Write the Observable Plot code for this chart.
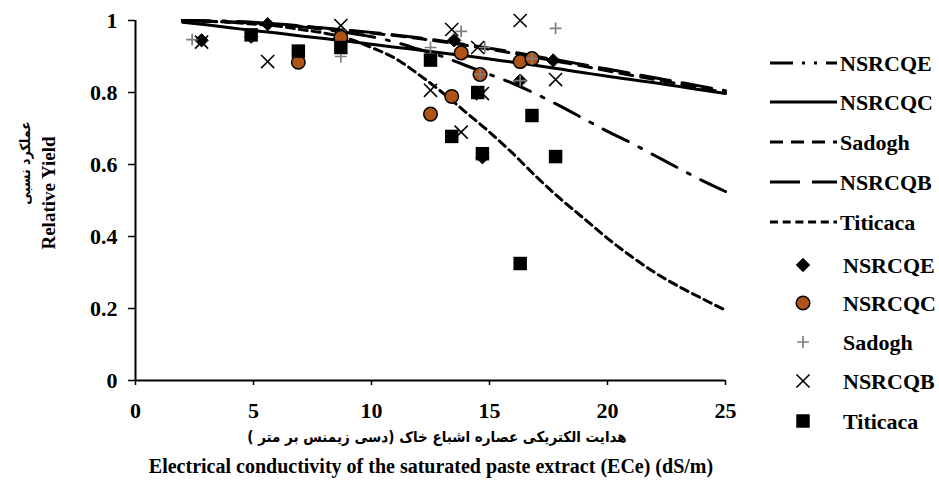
<!DOCTYPE html>
<html><head><meta charset="utf-8">
<script src="https://cdn.jsdelivr.net/npm/d3@7"></script>
<script src="https://cdn.jsdelivr.net/npm/@observablehq/plot@0.6"></script>
<style>
body{margin:0;background:#fff;}
#wrap{position:relative;width:939px;height:483px;}
#wrap svg{position:absolute;left:0;top:0;}
</style></head><body><div id="wrap"></div>
<script>
// ---- data ----
const seriesNames = ["NSRCQE", "NSRCQC", "Sadogh", "NSRCQB", "Titicaca"];
const xTicks = [0, 5, 10, 15, 20, 25];
const yTicks = [0, 0.2, 0.4, 0.6, 0.8, 1];

const curveX     = [2, 3, 4, 5, 6, 7, 8, 9, 10, 11, 12, 13, 14, 15, 16, 17, 18, 19, 20, 21, 22, 23, 24, 25];
const curveQE    = [1.0, 0.999, 0.998, 0.995, 0.99, 0.983, 0.975, 0.966, 0.955, 0.94, 0.92, 0.9, 0.875, 0.85, 0.825, 0.795, 0.762, 0.727, 0.692, 0.66, 0.625, 0.59, 0.556, 0.525];
const curveQC    = [0.995, 0.988, 0.98, 0.972, 0.965, 0.957, 0.95, 0.942, 0.934, 0.926, 0.918, 0.91, 0.902, 0.893, 0.884, 0.875, 0.865, 0.855, 0.845, 0.836, 0.827, 0.817, 0.807, 0.797];
const curveSad   = [1.0, 0.998, 0.996, 0.993, 0.989, 0.984, 0.978, 0.972, 0.965, 0.958, 0.95, 0.941, 0.931, 0.92, 0.909, 0.897, 0.885, 0.873, 0.86, 0.848, 0.836, 0.824, 0.812, 0.80];
const curveQB    = [1.0, 0.998, 0.996, 0.993, 0.99, 0.985, 0.979, 0.973, 0.967, 0.96, 0.952, 0.943, 0.933, 0.923, 0.912, 0.9, 0.889, 0.877, 0.865, 0.853, 0.841, 0.829, 0.817, 0.805];
const curveTiti  = [1.0, 0.998, 0.995, 0.99, 0.985, 0.975, 0.965, 0.95, 0.925, 0.895, 0.85, 0.8, 0.745, 0.69, 0.63, 0.565, 0.505, 0.45, 0.395, 0.345, 0.30, 0.262, 0.228, 0.195];

const ptsQE_x   = [2.8, 4.9, 5.6, 13.5, 17.7, 16.3, 14.7];
const ptsQE_y   = [0.945, 0.955, 0.99, 0.945, 0.889, 0.833, 0.62];
const ptsQC_x   = [6.9, 8.7, 13.8, 16.3, 16.8, 14.6, 13.4, 12.5];
const ptsQC_y   = [0.884, 0.953, 0.91, 0.886, 0.894, 0.85, 0.789, 0.74];
const ptsSad_x  = [2.4, 8.7, 12.5, 13.8, 14.8, 14.6, 16.3, 16.8, 17.8];
const ptsSad_y  = [0.947, 0.9, 0.925, 0.97, 0.925, 0.85, 0.833, 0.894, 0.978];
const ptsQB_x   = [2.8, 5.6, 8.7, 13.4, 14.5, 16.3, 17.8, 12.5, 14.7, 13.8];
const ptsQB_y   = [0.94, 0.886, 0.986, 0.975, 0.925, 1.0, 0.836, 0.806, 0.797, 0.69];
const ptsTiti_x = [4.9, 6.9, 8.7, 12.5, 14.5, 13.4, 14.7, 16.8, 17.8, 16.3];
const ptsTiti_y = [0.96, 0.915, 0.925, 0.89, 0.80, 0.678, 0.63, 0.736, 0.622, 0.325];

const yTitleEn = "Relative Yield";
const yTitleFa = "عملکرد نسبی";
const xTitleFa = "هدایت الکتریکی عصاره اشباع خاک (دسی زیمنس بر متر )";
const xTitleEn = "Electrical conductivity of the saturated paste extract (ECe) (dS/m)";

// ---- build ----
const rows = (xs, ys) => xs.map((x, i) => ({x, y: ys[i]}));
const FONT = '"Times New Roman","Liberation Serif",serif';
const FA_FONT = '"DejaVu Sans Condensed","DejaVu Sans",sans-serif';
const lineStyles = {
  NSRCQE: {dash: "28,12,3,12", data: curveQE},
  NSRCQC: {dash: null, data: curveQC},
  Sadogh: {dash: "13,8", data: curveSad},
  NSRCQB: {dash: "30,12", data: curveQB},
  Titicaca: {dash: "8,5", data: curveTiti}
};
const legendDash = {NSRCQE: "23,9,3,9,3,9,12", NSRCQC: null, Sadogh: "13,8", NSRCQB: "30,12", Titicaca: "8,4.7"};
const markStyles = {
  NSRCQE: {symbol: "diamond2", r: 6, fill: "#000", stroke: "#000", strokeWidth: 1, xs: ptsQE_x, ys: ptsQE_y},
  NSRCQC: {symbol: "circle", r: 6.8, fill: "#AE5419", stroke: "#000", strokeWidth: 1.5, xs: ptsQC_x, ys: ptsQC_y},
  Sadogh: {symbol: "plus", r: 3.9, fill: "none", stroke: "#7f7f7f", strokeWidth: 1.7, xs: ptsSad_x, ys: ptsSad_y},
  NSRCQB: {symbol: "times", r: 6, fill: "none", stroke: "#000", strokeWidth: 1.6, xs: ptsQB_x, ys: ptsQB_y},
  Titicaca: {symbol: "square", r: 7.6, fill: "#000", stroke: "none", strokeWidth: 0, xs: ptsTiti_x, ys: ptsTiti_y}
};

const marks = [
  Plot.axisX({ticks: xTicks, tickSize: 5, tickPadding: 17, strokeWidth: 1.5, label: null, tickFormat: d => String(d)}),
  Plot.axisY({ticks: yTicks, tickSize: 7, tickPadding: 11, strokeWidth: 1.5, label: null, tickFormat: d => String(d)}),
  Plot.ruleY([0], {x1: 0, x2: 25, stroke: "#000", strokeWidth: 2}),
  Plot.ruleX([0], {y1: 0, y2: 1, stroke: "#000", strokeWidth: 2})
];
for (const s of seriesNames) {
  const ls = lineStyles[s];
  marks.push(Plot.line(rows(curveX, ls.data), {x: "x", y: "y", stroke: "#000", strokeWidth: 3, strokeDasharray: ls.dash || undefined, curve: "monotone-x"}));
}
for (const s of seriesNames) {
  const m = markStyles[s];
  marks.push(Plot.dot(rows(m.xs, m.ys), {x: "x", y: "y", symbol: m.symbol, r: m.r, fill: m.fill, stroke: m.stroke, strokeWidth: m.strokeWidth}));
}

const chart = Plot.plot({
  width: 939, height: 483,
  marginLeft: 135, marginRight: 214, marginTop: 20, marginBottom: 103,
  x: {domain: [0, 25]},
  y: {domain: [0, 1]},
  style: {fontFamily: FONT, fontSize: "22px", fontWeight: "bold", color: "#000", background: "transparent"},
  marks
});
document.getElementById("wrap").appendChild(chart);

// ---- legend & titles overlay ----
const ov = d3.select("#wrap").append("svg").attr("width", 939).attr("height", 483)
  .style("font-family", FONT).style("font-weight", "bold");

const lineRowY = [63, 102, 142, 182, 222];
const symRowY = [265, 303, 342, 381, 421];
seriesNames.forEach((s, i) => {
  const y = lineRowY[i];
  ov.append("line").attr("x1", 770).attr("x2", 837).attr("y1", y).attr("y2", y)
    .attr("stroke", "#000").attr("stroke-width", 3)
    .attr("stroke-dasharray", legendDash[s]);
  ov.append("text").attr("x", 840).attr("y", y).attr("dy", "0.35em").attr("font-size", 22).text(s);
});
const symMap = {diamond2: d3.symbolDiamond2, circle: d3.symbolCircle, plus: d3.symbolPlus, times: d3.symbolTimes, square: d3.symbolSquare};
seriesNames.forEach((s, i) => {
  const y = symRowY[i];
  const m = markStyles[s];
  ov.append("path").attr("transform", `translate(803,${y})`)
    .attr("d", d3.symbol(symMap[m.symbol], Math.PI * m.r * m.r)())
    .attr("fill", m.fill).attr("stroke", m.stroke).attr("stroke-width", m.strokeWidth);
  ov.append("text").attr("x", 843).attr("y", y).attr("dy", "0.35em").attr("font-size", 22).text(s);
});

ov.append("text").attr("transform", "translate(55,193) rotate(-90)").attr("text-anchor", "middle")
  .attr("font-size", 19).text(yTitleEn);
ov.append("text").attr("transform", "translate(30,163) rotate(-90)").attr("text-anchor", "middle")
  .attr("direction", "rtl").style("font-family", FA_FONT).attr("font-size", 14).text(yTitleFa);
ov.append("text").attr("x", 437).attr("y", 437).attr("dy", "0.35em").attr("text-anchor", "middle")
  .attr("direction", "rtl").style("font-family", FA_FONT).attr("font-size", 15).text(xTitleFa);
ov.append("text").attr("x", 431).attr("y", 466).attr("dy", "0.35em").attr("text-anchor", "middle")
  .attr("font-size", 20).text(xTitleEn);
</script></body></html>
